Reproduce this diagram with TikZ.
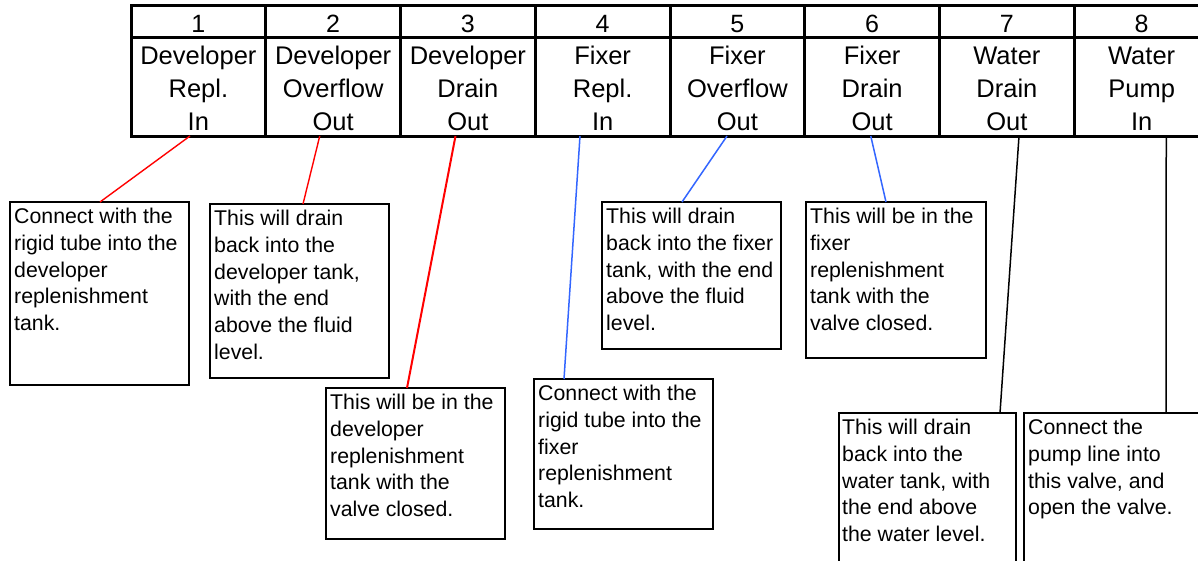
\documentclass[tikz,border=0pt]{standalone}
\usepackage{fontspec}
\setmainfont{Liberation Sans}
\definecolor{fixblue}{RGB}{51,102,255}
\begin{document}
\begin{tikzpicture}[x=1pt,y=-1pt,
  cell/.style={draw, line width=3pt, minimum width=134.75pt, outer sep=0pt, inner sep=0pt, anchor=north west},
  numcell/.style={cell, minimum height=32pt},
  headcell/.style={cell, minimum height=99pt},
  note/.style={draw, line width=2pt, outer sep=0pt, inner sep=0pt, anchor=north west, fill=white},
  notetext/.style={anchor=north west, inner sep=0pt, align=left, font=\fontsize{21.3pt}{26.7pt}\selectfont},
  headtext/.style={anchor=north, inner sep=0pt, align=center, font=\fontsize{25.5pt}{33pt}\selectfont},
  numtext/.style={anchor=base, inner sep=0pt, font=\fontsize{25pt}{28pt}\selectfont},
  devline/.style={draw=red, line width=1.4pt},
  fixline/.style={draw=fixblue, line width=1.5pt},
  wline/.style={draw=black, line width=1.5pt}
]
\useasboundingbox (0,0) rectangle (1198,560);
\clip (0,0) rectangle (1198,560);
\fill[white] (0,0) rectangle (1198,560);

% table
\foreach \i/\x in {1/131,2/265.75,3/400.5,4/535.25,5/670,6/804.75,7/939.5,8/1074.25}{
  \node[numcell] (n\i) at (\x,5) {};
  \node[headcell] (h\i) at (\x,37) {};
  \node[numtext] (t\i) at ([shift={(0,27)}]n\i.north) {\i};
}
\node[headtext] (ht1) at ([shift={(0,9)}]h1.north) {Developer\\Repl.\\In};
\node[headtext] (ht2) at ([shift={(0,9)}]h2.north) {Developer\\Overflow\\Out};
\node[headtext] (ht3) at ([shift={(0,9)}]h3.north) {Developer\\Drain\\Out};
\node[headtext] (ht4) at ([shift={(0,9)}]h4.north) {Fixer\vphantom{l}\\Repl.\\In};
\node[headtext] (ht5) at ([shift={(0,9)}]h5.north) {Fixer\vphantom{l}\\Overflow\\Out};
\node[headtext] (ht6) at ([shift={(0,9)}]h6.north) {Fixer\vphantom{l}\\Drain\\Out};
\node[headtext] (ht7) at ([shift={(0,9)}]h7.north) {Water\vphantom{l}\\Drain\\Out};
\node[headtext] (ht8) at ([shift={(0,9)}]h8.north) {Water\vphantom{l}\\Pump\\In};

% note boxes
\node[note, minimum width=179pt, minimum height=183pt] (b1) at (10,202) {};
\node[note, minimum width=179pt, minimum height=174pt] (b2) at (210,204) {};
\node[note, minimum width=179pt, minimum height=151pt] (b3) at (326,388) {};
\node[note, minimum width=179pt, minimum height=150pt] (b4) at (534,379) {};
\node[note, minimum width=179pt, minimum height=147pt] (b5) at (602,202) {};
\node[note, minimum width=180pt, minimum height=156pt] (b6) at (806,202) {};
\node[note, minimum width=177pt, minimum height=200pt] (b7) at (839,413) {};
\node[note, minimum width=190pt, minimum height=200pt] (b8) at (1024,413) {};

% connectors
\draw[devline] ([xshift=59pt]h1.south west) -- ([xshift=90pt]b1.north west);
\draw[devline] ([xshift=54pt]h2.south west) -- ([xshift=93pt]b2.north west);
\draw[devline, line width=2pt] ([xshift=55pt]h3.south west) -- ([xshift=81pt]b3.north west);
\draw[fixline] ([xshift=44.75pt]h4.south west) -- ([xshift=30pt]b4.north west);
\draw[fixline] ([xshift=57pt]h5.south west) -- ([xshift=80pt]b5.north west);
\draw[fixline] ([xshift=66pt]h6.south west) -- ([xshift=80pt]b6.north west);
\draw[wline] ([xshift=79.5pt]h7.south west) -- ([xshift=161pt]b7.north west);
\draw[wline] ([xshift=92pt]h8.south west) -- ([xshift=142pt]b8.north west);

% note texts
\node[notetext] (x1) at ([shift={(4,6)}]b1.north west) {Connect with the\\rigid tube into the\\developer\\replenishment\\tank.};
\node[notetext] (x2) at ([shift={(4,6)}]b2.north west) {This will drain\\back into the\\developer tank,\\with the end\\above the fluid\\level.};
\node[notetext] (x3) at ([shift={(4,6)}]b3.north west) {This will be in the\\developer\\replenishment\\tank with the\\valve closed.};
\node[notetext] (x4) at ([shift={(4,6)}]b4.north west) {Connect with the\\rigid tube into the\\fixer\\replenishment\\tank.};
\node[notetext] (x5) at ([shift={(4,6)}]b5.north west) {This will drain\\back into the fixer\\tank, with the end\\above the fluid\\level.};
\node[notetext] (x6) at ([shift={(4,6)}]b6.north west) {This will be in the\\fixer\\replenishment\\tank with the\\valve closed.};
\node[notetext] (x7) at ([shift={(3,6)}]b7.north west) {This will drain\\back into the\\water tank, with\\the end above\\the water level.};
\node[notetext] (x8) at ([shift={(4,6)}]b8.north west) {Connect the\\pump line into\\this valve, and\\open the valve.};
\end{tikzpicture}
\end{document}
